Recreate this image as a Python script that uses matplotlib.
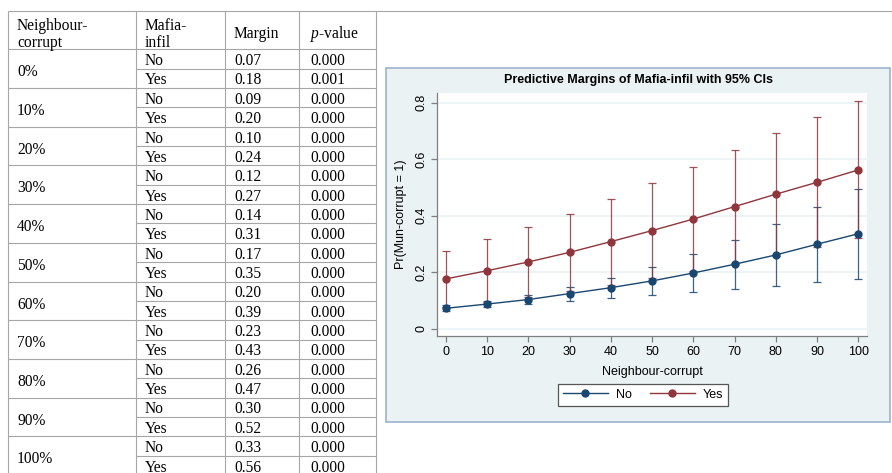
import matplotlib
matplotlib.use("Agg")
import matplotlib.pyplot as plt
from matplotlib.patches import Rectangle
from matplotlib.lines import Line2D

# ---------------- data ----------------
neighbour = [0, 10, 20, 30, 40, 50, 60, 70, 80, 90, 100]
group_labels = ["0%", "10%", "20%", "30%", "40%", "50%", "60%", "70%", "80%", "90%", "100%"]
infil_labels = ["No", "Yes"]
margin_no_txt = ["0.07", "0.09", "0.10", "0.12", "0.14", "0.17", "0.20", "0.23", "0.26", "0.30", "0.33"]
margin_yes_txt = ["0.18", "0.20", "0.24", "0.27", "0.31", "0.35", "0.39", "0.43", "0.47", "0.52", "0.56"]
p_no_txt = ["0.000", "0.000", "0.000", "0.000", "0.000", "0.000", "0.000", "0.000", "0.000", "0.000", "0.000"]
p_yes_txt = ["0.001", "0.000", "0.000", "0.000", "0.000", "0.000", "0.000", "0.000", "0.000", "0.000", "0.000"]
header = ["Neighbour-\ncorrupt", "Mafia-\ninfil", "Margin", "$p$-value"]

no_margin = [0.072, 0.087, 0.103, 0.124, 0.145, 0.169, 0.197, 0.228, 0.261, 0.299, 0.336]
no_lo = [0.062, 0.078, 0.087, 0.098, 0.110, 0.120, 0.130, 0.140, 0.152, 0.166, 0.177]
no_hi = [0.084, 0.098, 0.119, 0.147, 0.180, 0.219, 0.263, 0.314, 0.370, 0.430, 0.494]
yes_margin = [0.176, 0.205, 0.236, 0.270, 0.308, 0.347, 0.388, 0.432, 0.476, 0.518, 0.562]
yes_lo = [0.076, 0.094, 0.113, 0.134, 0.155, 0.178, 0.205, 0.232, 0.258, 0.288, 0.320]
yes_hi = [0.276, 0.316, 0.360, 0.407, 0.460, 0.515, 0.571, 0.631, 0.692, 0.749, 0.805]

title = "Predictive Margins of Mafia-infil with 95% CIs"
xlabel = "Neighbour-corrupt"
ylabel = "Pr(Mun-corrupt = 1)"
yticks = [0, 0.2, 0.4, 0.6, 0.8]
ytick_labels = ["0", "0.2", "0.4", "0.6", "0.8"]

# ---------------- style ----------------
plt.rcParams["mathtext.fontset"] = "custom"
plt.rcParams["mathtext.rm"] = "Liberation Serif"
plt.rcParams["mathtext.it"] = "Liberation Serif:italic"
NAVY = "#1a476f"
MAROON = "#90353b"
SERIF = "Liberation Serif"
SANS = "Liberation Sans"

W, H = 892, 473
fig = plt.figure(figsize=(W / 100, H / 100), dpi=100)
fig.patch.set_facecolor("white")

bg = fig.add_axes([0, 0, 1, 1])
bg.set_xlim(0, W)
bg.set_ylim(H, 0)
bg.axis("off")

# ---------------- table ----------------
line_c = "#a6a6a6"
lw_t = 0.8
col_x = [7.5, 136, 225, 299, 376]
text_x = [17, 145, 234, 310]
top_y = 11.5
head_bot = 49.3
grp_h = 38.7
fs_t = 11.2

bg.hlines(top_y, col_x[0], W, color=line_c, lw=lw_t)
bg.hlines(head_bot, col_x[0], col_x[-1], color=line_c, lw=lw_t)
bg.vlines(col_x, top_y, H, color=line_c, lw=lw_t)

for j, h in enumerate(header):
    bg.text(text_x[j], 34.5, h, family=SERIF, fontsize=fs_t, ha="left", va="center",
            linespacing=1.05)

for i, g in enumerate(group_labels):
    y0 = head_bot + i * grp_h
    bg.hlines(y0 + grp_h, col_x[0], col_x[-1], color=line_c, lw=lw_t)
    bg.hlines(y0 + grp_h / 2, col_x[1], col_x[-1], color=line_c, lw=lw_t)
    bg.text(text_x[0], y0 + 23, g, family=SERIF, fontsize=fs_t, ha="left", va="center")
    rows = [(infil_labels[0], margin_no_txt[i], p_no_txt[i]),
            (infil_labels[1], margin_yes_txt[i], p_yes_txt[i])]
    for k, (lab, m, p) in enumerate(rows):
        yc = y0 + 11.8 + k * 19.4
        bg.text(text_x[1], yc, lab, family=SERIF, fontsize=fs_t, ha="left", va="center")
        bg.text(text_x[2], yc, m, family=SERIF, fontsize=fs_t, ha="left", va="center")
        bg.text(text_x[3], yc, p, family=SERIF, fontsize=fs_t, ha="left", va="center")

# ---------------- chart panel ----------------
bg.add_patch(Rectangle((385.5, 68.5), 504, 353.5, facecolor="#eaf2f3",
                       edgecolor="#9db2cd", lw=1.2, zorder=0))
bg.text(638, 80, title, family=SANS, fontsize=9.0, weight="bold",
        ha="center", va="center")

L, R, T, B = 437.3, 866.7, 93.3, 336.0
ax = fig.add_axes([L / W, (H - B) / H, (R - L) / W, (B - T) / H])
ax.set_facecolor("white")
ax.set_xlim(-2.03, 102.0)
ax.set_ylim(-0.026, 0.833)
for s in ["top", "right"]:
    ax.spines[s].set_visible(False)
for s in ["left", "bottom"]:
    ax.spines[s].set_color("#7f7f7f")
    ax.spines[s].set_linewidth(0.9)
ax.set_xticks(neighbour)
ax.set_xticklabels([str(v) for v in neighbour], family=SANS, fontsize=9)
ax.set_yticks(yticks)
ax.set_yticklabels(ytick_labels, family=SANS, fontsize=9, rotation=90, va="center")
ax.tick_params(direction="out", length=4, width=0.9, color="#7f7f7f", pad=3)
ax.grid(axis="y", color="#eaf2f3", lw=1.2)
ax.set_axisbelow(True)
ax.set_xlabel(xlabel, family=SANS, fontsize=9, labelpad=6)
ax.set_ylabel(ylabel, family=SANS, fontsize=9, labelpad=6)

ax.errorbar(neighbour, no_margin,
            yerr=[[m - l for m, l in zip(no_margin, no_lo)], [h - m for m, h in zip(no_margin, no_hi)]],
            fmt="none", ecolor=NAVY, elinewidth=0.9, capsize=2.6, capthick=0.9, alpha=0.85, zorder=2)
ax.errorbar(neighbour, yes_margin,
            yerr=[[m - l for m, l in zip(yes_margin, yes_lo)], [h - m for m, h in zip(yes_margin, yes_hi)]],
            fmt="none", ecolor=MAROON, elinewidth=0.9, capsize=2.6, capthick=0.9, alpha=0.85, zorder=2)
ax.plot(neighbour, yes_margin, "-o", color=MAROON, lw=1.0, ms=5, zorder=3)
ax.plot(neighbour, no_margin, "-o", color=NAVY, lw=1.0, ms=5, zorder=4)

handles = [Line2D([], [], color=NAVY, marker="o", lw=1.0, ms=5),
           Line2D([], [], color=MAROON, marker="o", lw=1.0, ms=5)]
leg = fig.legend(handles, infil_labels, loc="center", bbox_to_anchor=(643 / W, (H - 394.7) / H),
                 ncol=2, frameon=True, fancybox=False, edgecolor="#555555", framealpha=1,
                 prop={"family": SANS, "size": 9}, handlelength=3.6, columnspacing=1.45,
                 borderpad=0.4, handletextpad=0.65)
leg.get_frame().set_linewidth(0.9)

fig.savefig("out.png", dpi=100)
